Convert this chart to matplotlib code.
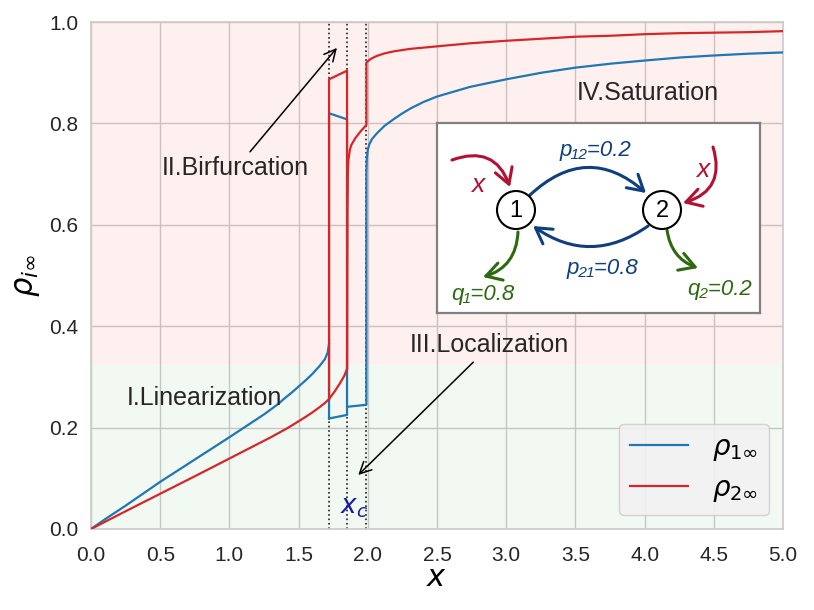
import matplotlib
matplotlib.use('Agg')
import matplotlib.pyplot as plt
from matplotlib.patches import FancyArrowPatch, Circle

plt.rcParams['font.family'] = ['Liberation Sans', 'DejaVu Sans']
plt.rcParams['mathtext.fontset'] = 'dejavusans'

# ---------------- data ----------------
# I. linearization branch (both densities), x from 0 to the first critical point
x_lin = [0.0, 0.1, 0.25, 0.5, 0.75, 1.0, 1.1, 1.2, 1.25, 1.3, 1.35, 1.4, 1.45, 1.5, 1.55, 1.6,
         1.65, 1.69, 1.71, 1.72]
rho1_lin = [0.0, 0.019, 0.046, 0.093, 0.137, 0.181, 0.199, 0.217, 0.226, 0.236, 0.246, 0.258,
            0.269, 0.281, 0.293, 0.306, 0.321, 0.335, 0.348, 0.365]
rho2_lin = [0.0, 0.014, 0.035, 0.0695, 0.104, 0.139, 0.153, 0.167, 0.174, 0.181, 0.1885, 0.196,
            0.204, 0.2125, 0.221, 0.230, 0.240, 0.2485, 0.2535, 0.2565]

# rho_2: continuation past the first critical point, then high branch
x_r2_cont = [1.72, 1.76, 1.80, 1.83, 1.85, 1.851, 1.853, 1.856, 1.86, 1.87, 1.88, 1.91, 1.95, 1.99,
             1.99, 2.02, 2.064, 2.12, 2.185, 2.305, 2.5, 2.738, 3.0, 3.25, 3.5, 3.76, 4.0, 4.25,
             4.5, 4.75, 5.0]
rho2_cont = [0.2565, 0.271, 0.288, 0.302, 0.316, 0.45, 0.62, 0.70, 0.728, 0.747, 0.757, 0.771, 0.785, 0.797,
             0.920, 0.927, 0.933, 0.938, 0.942, 0.947, 0.952, 0.958, 0.963, 0.967, 0.971, 0.973,
             0.976, 0.978, 0.979, 0.980, 0.982]
# rho_2: bifurcated (upper) branch between the first two critical points
x_r2_bif = [1.72, 1.72, 1.85, 1.85]
rho2_bif = [0.2565, 0.887, 0.904, 0.316]

# rho_1: bifurcated branches between the first two critical points
x_r1_bif = [1.72, 1.72, 1.85, 1.85, 1.72]
rho1_bif = [0.218, 0.82, 0.808, 0.225, 0.218]
# rho_1: localized branch, then saturation branch
x_r1_high = [1.85, 1.99, 1.99, 1.993, 2.0, 2.01, 2.03, 2.064, 2.12, 2.185, 2.245, 2.305, 2.4, 2.5,
             2.738, 3.0, 3.256, 3.5, 3.76, 4.0, 4.256, 4.5, 4.75, 5.0]
rho1_high = [0.241, 0.245, 0.700, 0.731, 0.748, 0.758, 0.769, 0.780, 0.795, 0.808, 0.819, 0.829,
             0.842, 0.853, 0.872, 0.887, 0.900, 0.910, 0.918, 0.924, 0.930, 0.934, 0.9375, 0.940]

# critical points (dotted lines)
x_crit = [1.72, 1.85, 1.99]
# region boundary between linear (green) and nonlinear (pink) regimes
rho_boundary = 0.326

xticks = [0.0, 0.5, 1.0, 1.5, 2.0, 2.5, 3.0, 3.5, 4.0, 4.5, 5.0]
yticks = [0.0, 0.2, 0.4, 0.6, 0.8, 1.0]

C1 = '#1f77b4'
C2 = '#d62728'

# ---------------- figure ----------------
fig = plt.figure(figsize=(8.14, 6.10), dpi=100)
ax = fig.add_axes([0.1118, 0.1328, 0.8501, 0.8311])
ax.set_facecolor('white')
ax.axhspan(0, rho_boundary, color='green', alpha=0.05, lw=0, zorder=0.6)
ax.axhspan(rho_boundary, 1.0, color='red', alpha=0.06, lw=0, zorder=0.6)

l1, = ax.plot(x_lin, rho1_lin, color=C1, lw=1.6, label=r'$\rho_{1\infty}$', zorder=3)
ax.plot(x_r1_bif, rho1_bif, color=C1, lw=1.6, zorder=3)
ax.plot(x_r1_high, rho1_high, color=C1, lw=1.6, zorder=3)
l2, = ax.plot(x_lin, rho2_lin, color=C2, lw=1.6, label=r'$\rho_{2\infty}$', zorder=3)
ax.plot(x_r2_cont, rho2_cont, color=C2, lw=1.6, zorder=3)
ax.plot(x_r2_bif, rho2_bif, color=C2, lw=1.6, zorder=3)

for xc in x_crit:
    ax.axvline(xc, color='#222222', ls=':', lw=1.2, zorder=2.5)

ax.set_xlim(0, 5)
ax.set_ylim(0, 1)
ax.set_xticks(xticks)
ax.set_yticks(yticks)
ax.set_xticklabels([f'{t:.1f}' for t in xticks])
ax.set_yticklabels([f'{t:.1f}' for t in yticks])
ax.tick_params(axis='both', length=0, labelsize=15, labelcolor='#262626')
ax.tick_params(axis='x', pad=12)
ax.tick_params(axis='y', pad=9)
ax.grid(True, color='#cccccc', lw=1.0, zorder=0.5)
ax.set_axisbelow(True)
for s in ax.spines.values():
    s.set_color('#cccccc')
    s.set_linewidth(1.25)

ax.set_xlabel(r'$x$', fontsize=22, labelpad=-1)
ax.set_ylabel(r'$\rho_{i\infty}$', fontsize=22, labelpad=5)

# region labels
txt_kw = dict(fontsize=18, color='#262626', va='baseline', ha='left', zorder=4)
ax.text(0.258, 0.2446, 'I.Linearization', **txt_kw)
ax.text(0.511, 0.698, 'II.Birfurcation', **txt_kw)
ax.text(2.305, 0.3497, 'III.Localization', **txt_kw)
ax.text(3.509, 0.846, 'IV.Saturation', **txt_kw)
ax.text(1.80, 0.031, r'$x_c$', fontsize=19, color='#1a1aa6', va='baseline', ha='left', zorder=4)

arr_kw = dict(arrowstyle='->,head_length=0.6,head_width=0.3', color='black', lw=1.1,
              shrinkA=0, shrinkB=0, mutation_scale=14)
ax.annotate('', xy=(1.777, 0.949), xytext=(1.149, 0.744), arrowprops=arr_kw, zorder=4)
ax.annotate('', xy=(1.931, 0.1065), xytext=(2.762, 0.329), arrowprops=arr_kw, zorder=4)

leg = ax.legend(handles=[l1, l2], loc='lower right', fontsize=20, frameon=True, fancybox=True,
                facecolor='#f2f2f2', edgecolor='#cccccc', framealpha=0.85,
                handlelength=2.1, borderpad=0.4, labelspacing=0.47, handletextpad=0.85)
leg.set_zorder(5)

# ---------------- inset diagram ----------------
ins = ax.inset_axes([0.5, 0.426, 0.4668, 0.3748], zorder=6)
ins.set_xlim(0, 323)
ins.set_ylim(0, 190)
ins.set_xticks([])
ins.set_yticks([])
ins.set_facecolor('white')
for s in ins.spines.values():
    s.set_color('#808080')
    s.set_linewidth(1.6)

CB = '#0e3f7f'
CR = '#b41032'
CG = '#2d6a0f'
node_r = 19
n1 = (79, 103)
n2 = (225, 103)
for (cx, cy), lab in [(n1, '1'), (n2, '2')]:
    ins.add_patch(Circle((cx, cy), node_r, facecolor='white', edgecolor='black', lw=1.5, zorder=3))
    ins.text(cx, cy - 1, lab, fontsize=17, ha='center', va='center', color='black', zorder=4)

def curved(p0, p1, rad, color):
    a = FancyArrowPatch(p0, p1, connectionstyle=f'arc3,rad={rad}',
                        arrowstyle='->,head_length=0.55,head_width=0.32', mutation_scale=20,
                        color=color, lw=2.2, shrinkA=0, shrinkB=0, zorder=2)
    ins.add_patch(a)

curved((93, 118), (209, 120), -0.45, CB)
curved((211, 87), (96, 87), -0.35, CB)
curved((15, 153), (73, 126), -0.5, CR)
curved((276, 166), (246, 110), -0.5, CR)
curved((81, 81), (46, 36), -0.35, CG)
curved((230, 83), (261, 45), 0.3, CG)

lab_kw = dict(fontsize=16, style='italic', ha='center', va='center', zorder=4)
ins.text(158, 163, 'p\u2081\u2082=0.2', color=CB, **lab_kw)
ins.text(165, 45, 'p\u2082\u2081=0.8', color=CB, **lab_kw)
ins.text(46, 19, 'q\u2081=0.8', color=CG, **lab_kw)
ins.text(283, 24, 'q\u2082=0.2', color=CG, **lab_kw)
ins.text(41, 128, 'x', color=CR, fontsize=19, style='italic', ha='center', va='center')
ins.text(266, 143, 'x', color=CR, fontsize=19, style='italic', ha='center', va='center')

fig.savefig('out.png', dpi=100)
